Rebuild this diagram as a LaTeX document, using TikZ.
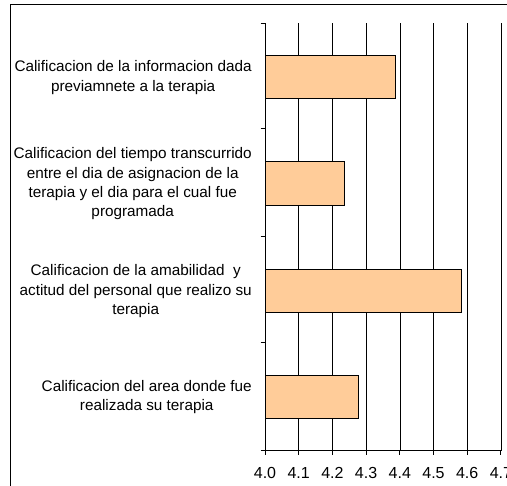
\documentclass[tikz,border=0pt]{standalone}
\usepackage{fontspec}
\setmainfont{Liberation Sans}
\definecolor{barfill}{HTML}{FFCC99}
\begin{document}
\begin{tikzpicture}[x=1pt,y=-1pt,
  bar/.style={draw=black,line width=0.9pt,fill=barfill},
  grid/.style={draw=black,line width=0.6pt},
  axisline/.style={draw=black,line width=0.9pt},
  catlabel/.style={anchor=east,align=center,inner sep=0pt,font=\fontsize{15.3}{19.3}\selectfont},
  ticklabel/.style={anchor=center,inner sep=0pt,font=\fontsize{16}{18}\selectfont}]
\useasboundingbox (0,0) rectangle (507,486);
% outer frame
\draw[line width=1pt] (10,486) -- (10,5) -- (507,5);
% vertical grid lines
\foreach \i in {1,...,7}{
  \draw[grid] ({265+33.7*\i},23.5) -- ({265+33.7*\i},450.7);
}
% bars
\draw[bar] (265,55.3) rectangle (395.3,98.7);
\draw[bar] (265,161.7) rectangle (344,205.3);
\draw[bar] (265,269.3) rectangle (461,312);
\draw[bar] (265,375.3) rectangle (358.3,418);
% axes
\draw[axisline] (265,23.5) -- (265,450.7) -- (501,450.7);
\foreach \y in {23.5,128.7,236.7,342.7,450.7}{
  \draw[axisline] (260.5,\y) -- (265,\y);
}
\foreach \i/\t in {0/4.0,1/4.1,2/4.2,3/4.3,4/4.4,5/4.5,6/4.6,7/4.7}{
  \draw[axisline] ({265+33.7*\i},450.7) -- ({265+33.7*\i},455.5);
  \node[ticklabel] (t\i) at ({265+33.7*\i},473) {\t};
}
% category labels
\node[catlabel] (c1) at (252,77.5) {Calificacion de la informacion dada\\previamnete a la terapia};
\node[catlabel] (c2) at (252,183.8) {Calificacion del tiempo transcurrido\\entre el dia de asignacion de la\\terapia y el dia para el cual fue\\programada};
\node[catlabel] (c3) at (252,291.3) {Calificacion de la amabilidad\ \ y\\actitud del personal que realizo su\\terapia};
\node[catlabel] (c4) at (252,397.3) {Calificacion del area donde fue\\realizada su terapia};
\end{tikzpicture}
\end{document}
